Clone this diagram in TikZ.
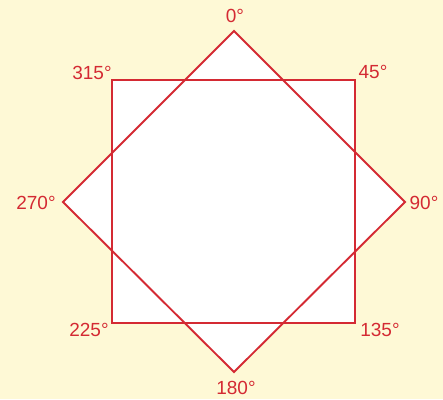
\documentclass[tikz,border=0pt]{standalone}
\usepackage{fontspec}
\setmainfont{Liberation Sans}
\definecolor{bg}{HTML}{FEF9D6}
\definecolor{rd}{HTML}{D42A33}
\begin{document}
\begin{tikzpicture}[x=1pt,y=-1pt,
  lbl/.style={text=rd,font=\fontsize{19}{21}\selectfont,inner sep=0pt},
  shp/.style={draw=rd,line join=miter}]
\fill[bg] (0,0) rectangle (443,399);
\useasboundingbox (0,0) rectangle (443,399);
% corners
\coordinate (sq1) at (112,80);
\coordinate (sq2) at (355,80);
\coordinate (sq3) at (355,323);
\coordinate (sq4) at (112,323);
\coordinate (dT) at (234,31);
\coordinate (dR) at (405,202);
\coordinate (dB) at (234,372);
\coordinate (dL) at (63,202);
% white fill of union
\fill[white] (sq1) -- (sq2) -- (sq3) -- (sq4) -- cycle;
\fill[white] (dT) -- (dR) -- (dB) -- (dL) -- cycle;
\draw[shp,line width=2.4] (sq1) -- (sq2) -- (sq3) -- (sq4) -- cycle;
\draw[shp,line width=1.9] (dT) -- (dR) -- (dB) -- (dL) -- cycle;
% labels
\node[lbl] (l0) at (235,16) {0°};
\node[lbl] (l45) at (373,72) {45°};
\node[lbl] (l90) at (424,203) {90°};
\node[lbl] (l135) at (380,330) {135°};
\node[lbl] (l180) at (236,388) {180°};
\node[lbl] (l225) at (89,330) {225°};
\node[lbl] (l270) at (36,203) {270°};
\node[lbl] (l315) at (92,73) {315°};
\end{tikzpicture}
\end{document}
